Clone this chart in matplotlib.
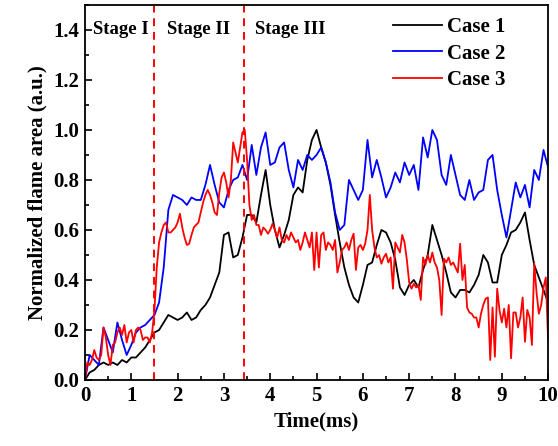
import matplotlib.pyplot as plt
import numpy as np
from matplotlib.ticker import MultipleLocator

plt.rcParams["font.family"] = ["Liberation Serif", "DejaVu Serif"]
plt.rcParams["font.weight"] = "bold"

# time axes (ms)
time_coarse = np.linspace(0, 10, 101)   # 0.1 ms step
time_fine = np.linspace(0, 10, 201)     # 0.05 ms step

case1 = [
    0.0, 0.03, 0.04, 0.06, 0.07, 0.06, 0.07, 0.06, 0.08, 0.07,
    0.09, 0.09, 0.11, 0.13, 0.16, 0.19, 0.20, 0.23, 0.26, 0.25,
    0.24, 0.25, 0.27, 0.24, 0.25, 0.28, 0.30, 0.33, 0.38, 0.43,
    0.58, 0.59, 0.49, 0.50, 0.57, 0.66, 0.66, 0.63, 0.74, 0.84,
    0.70, 0.60, 0.53, 0.58, 0.64, 0.74, 0.77, 0.75, 0.88, 0.96,
    1.00, 0.93, 0.87, 0.78, 0.66, 0.55, 0.45, 0.38, 0.33, 0.31,
    0.38, 0.46, 0.47, 0.54, 0.60, 0.59, 0.55, 0.48, 0.37, 0.34,
    0.38, 0.40, 0.37, 0.44, 0.50, 0.62, 0.56, 0.50, 0.43, 0.35,
    0.33, 0.36, 0.36, 0.35, 0.38, 0.42, 0.50, 0.47, 0.39, 0.39,
    0.50, 0.54, 0.59, 0.60, 0.63, 0.67, 0.56, 0.46, 0.41, 0.36,
    0.31,
]

case2 = [
    0.0, 0.10, 0.08, 0.06, 0.21, 0.16, 0.11, 0.23, 0.16, 0.10,
    0.14, 0.19, 0.21, 0.22, 0.24, 0.26, 0.31, 0.45, 0.68, 0.74,
    0.73, 0.72, 0.70, 0.73, 0.72, 0.72, 0.78, 0.86, 0.78, 0.71,
    0.69, 0.76, 0.80, 0.81, 0.86, 0.80, 0.94, 0.82, 0.93, 0.99,
    0.86, 0.87, 0.93, 0.95, 0.84, 0.77, 0.88, 0.84, 0.90, 0.88,
    0.90, 0.93, 0.87, 0.79, 0.67, 0.60, 0.62, 0.80, 0.76, 0.72,
    0.76, 0.96, 0.81, 0.88, 0.81, 0.73, 0.77, 0.83, 0.79, 0.87,
    0.82, 0.86, 0.76, 0.97, 0.89, 1.00, 0.96, 0.82, 0.78, 0.90,
    0.82, 0.74, 0.72, 0.80, 0.72, 0.75, 0.76, 0.88, 0.90, 0.76,
    0.66, 0.57, 0.68, 0.79, 0.73, 0.78, 0.69, 0.84, 0.80, 0.92,
    0.85,
]

case3 = [
    0.0, 0.07, 0.06, 0.08, 0.12, 0.09, 0.08, 0.10, 0.21, 0.17,
    0.10, 0.06, 0.14, 0.15, 0.19, 0.21, 0.18, 0.22, 0.15, 0.19,
    0.20, 0.15, 0.20, 0.21, 0.20, 0.16, 0.17, 0.17, 0.15, 0.19,
    0.28, 0.45, 0.55, 0.59, 0.62, 0.63, 0.59, 0.59, 0.60, 0.61,
    0.63, 0.665, 0.61, 0.57, 0.54, 0.545, 0.58, 0.61, 0.62, 0.63,
    0.67, 0.71, 0.74, 0.76, 0.74, 0.71, 0.67, 0.66, 0.75, 0.81,
    0.83, 0.79, 0.73, 0.80, 0.95, 0.91, 0.87, 0.93, 0.99, 1.00,
    0.88, 0.70, 0.64, 0.66, 0.62, 0.62, 0.58, 0.61, 0.60, 0.585,
    0.60, 0.625, 0.60, 0.57, 0.61, 0.56, 0.55, 0.58, 0.56, 0.59,
    0.57, 0.55, 0.56, 0.52, 0.55, 0.59, 0.56, 0.53, 0.59, 0.44,
    0.59, 0.45, 0.58, 0.59, 0.52, 0.55, 0.54, 0.52, 0.56, 0.43,
    0.47, 0.52, 0.53, 0.55, 0.52, 0.56, 0.585, 0.44, 0.53, 0.54,
    0.52, 0.545, 0.60, 0.74, 0.60, 0.53, 0.49, 0.50, 0.465, 0.49,
    0.505, 0.47, 0.49, 0.365, 0.55, 0.53, 0.51, 0.58, 0.55, 0.48,
    0.39, 0.365, 0.385, 0.37, 0.38, 0.32, 0.49, 0.46, 0.50, 0.47,
    0.51, 0.47, 0.45, 0.40, 0.26, 0.485, 0.47, 0.49, 0.46, 0.47,
    0.45, 0.43, 0.545, 0.40, 0.46, 0.29, 0.27, 0.265, 0.25, 0.25,
    0.21, 0.265, 0.30, 0.325, 0.33, 0.08, 0.29, 0.093, 0.365, 0.28,
    0.23, 0.285, 0.21, 0.30, 0.087, 0.27, 0.27, 0.21, 0.25, 0.33,
    0.153, 0.28, 0.25, 0.14, 0.465, 0.35, 0.265, 0.30, 0.37, 0.41,
    0.16,
]

stage_bounds = [1.48, 3.43]
stage_labels = ["Stage I", "Stage II", "Stage III"]
stage_label_x = [0.17, 1.77, 3.67]

fig = plt.figure(figsize=(5.58, 4.46), dpi=100)
ax = fig.add_axes([0.1523, 0.148, 0.83, 0.841])

ax.plot(time_coarse, case1, color="black", lw=1.3, label="Case 1")
ax.plot(time_coarse, case2, color="#0000ff", lw=1.3, label="Case 2")
ax.plot(time_fine, case3, color="#ff0000", lw=1.3, label="Case 3")

for xb in stage_bounds:
    ax.axvline(xb, color="#ff0000", lw=1.4, linestyle=(0, (4, 3)))

for label, xl in zip(stage_labels, stage_label_x):
    ax.text(xl, 1.4, label, fontsize=13.5, fontweight="bold", ha="left", va="center")

ax.set_xlim(0, 10)
ax.set_ylim(0, 1.5)
ax.xaxis.set_major_locator(MultipleLocator(1))
ax.xaxis.set_minor_locator(MultipleLocator(0.5))
ax.yaxis.set_minor_locator(MultipleLocator(0.1))
ax.set_yticks(np.arange(0, 1.41, 0.2))
ax.set_yticklabels([f"{v:.1f}" for v in np.arange(0, 1.41, 0.2)])
ax.tick_params(which="both", direction="in", width=1.2, labelsize=15)
ax.tick_params(which="major", length=5, pad=4)
ax.tick_params(which="minor", length=3)
for lbl in ax.get_xticklabels() + ax.get_yticklabels():
    lbl.set_fontweight("bold")
for sp in ax.spines.values():
    sp.set_linewidth(1.3)

ax.set_xlabel("Time(ms)", fontsize=15, fontweight="bold", labelpad=4)
ax.set_ylabel("Normalized flame area (a.u.)", fontsize=15, fontweight="bold", labelpad=4)

leg = ax.legend(loc="upper left", bbox_to_anchor=(0.665, 0.968), frameon=False,
                fontsize=15, handlelength=2.35, labelspacing=0.32,
                borderaxespad=0, borderpad=0, handletextpad=0.25)
for t in leg.get_texts():
    t.set_fontweight("bold")

fig.savefig("out.png", dpi=100)
